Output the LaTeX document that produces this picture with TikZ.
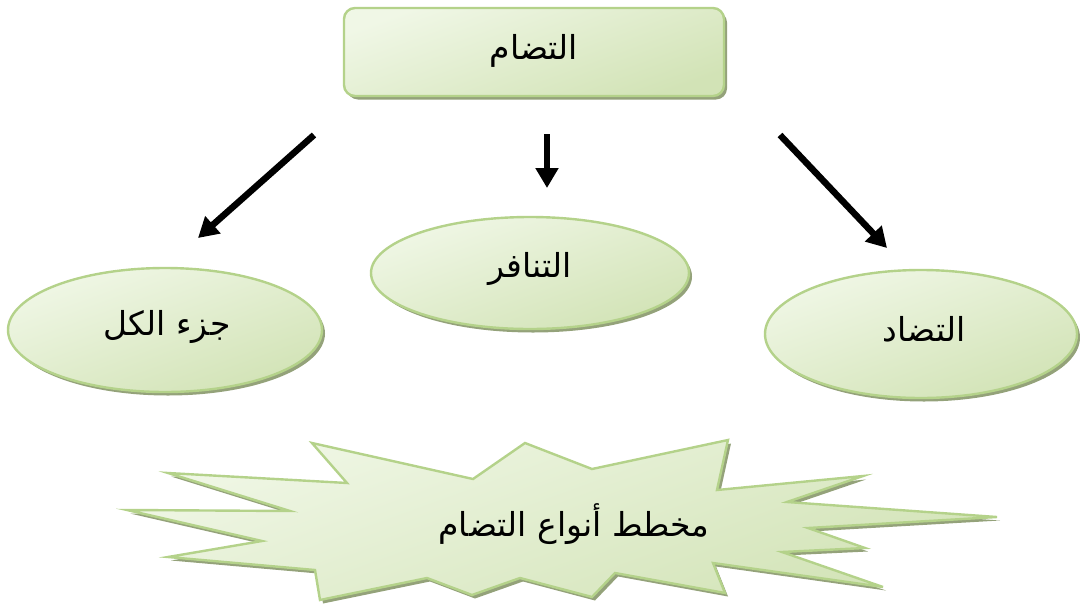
\documentclass[tikz,border=0pt]{standalone}
\usepackage{fontspec}
\newfontfamily\arabicfont[Script=Arabic]{DejaVu Sans}
\TeXXeTstate=1
\usetikzlibrary{arrows.meta,shadows,shapes.geometric}
\definecolor{lightg}{RGB}{240,247,230}
\definecolor{darkg}{RGB}{210,227,182}
\definecolor{edgeg}{RGB}{180,210,138}
\definecolor{shadg}{RGB}{148,162,122}
\tikzset{
  greenfill/.style={top color=lightg, bottom color=darkg, shading angle=20},
  greenedge/.style={draw=edgeg, line width=2.4pt},
  gshadow/.style={drop shadow={shadow xshift=3pt, shadow yshift=-3.5pt, fill=shadg, opacity=1}},
  topbox/.style={greenfill, greenedge, gshadow, rounded corners=11pt, minimum width=380pt, minimum height=88pt, inner sep=0pt},
  oval/.style={ellipse, greenfill, greenedge, gshadow, inner sep=0pt},
  artext/.style={font=\arabicfont\fontsize{33}{38}\selectfont, text=black},
  bigarrow/.style={line width=6.5pt, -{Triangle[length=20pt, width=22pt]}},
}
\begin{document}
\begin{tikzpicture}[x=1pt,y=-1pt]
\useasboundingbox (0,0) rectangle (1080,603);
% top box
\node[topbox] (top) at (534,52) {};
\node[artext] (toptxt) at (534,51) {\beginR التضام\endR};
% ellipses
\node[oval, minimum width=314pt, minimum height=124pt] (left) at (165,330) {};
\node[artext] (lefttxt) at (167,327) {\beginR جزء الكل\endR};
\node[oval, minimum width=318pt, minimum height=112pt] (mid) at (530,273) {};
\node[artext] (midtxt) at (530,269) {\beginR التنافر\endR};
\node[oval, minimum width=312pt, minimum height=128pt] (right) at (921,334) {};
\node[artext] (righttxt) at (924,329) {\beginR التضاد\endR};
% arrows
\coordinate (a1s) at (314,135);
\coordinate (a1e) at (198,238);
\coordinate (a2s) at (547,134);
\coordinate (a2e) at (547,188);
\coordinate (a3s) at (780,135);
\coordinate (a3e) at (887,248);
\draw[bigarrow] (a1s) -- (a1e);
\draw[bigarrow] (a2s) -- (a2e);
\draw[bigarrow] (a3s) -- (a3e);
% star
\path[greenfill, greenedge, gshadow, line join=miter]
 (312,443) -- (473,479) -- (525,443) -- (592,469) -- (728,440) -- (717,490)
 -- (863,476) -- (787,502) -- (997,517) -- (808,528) -- (865,548) -- (782,552)
 -- (883,587) -- (713,563) -- (725,593) -- (615,573) -- (592,597) -- (520,578)
 -- (472,595) -- (427,578) -- (320,600) -- (315,570) -- (168,557) -- (262,541)
 -- (127,510) -- (290,511) -- (168,473) -- (347,483) -- cycle;
\node[artext] (startxt) at (574,524) {\beginR مخطط أنواع التضام\endR};
\end{tikzpicture}
\end{document}
